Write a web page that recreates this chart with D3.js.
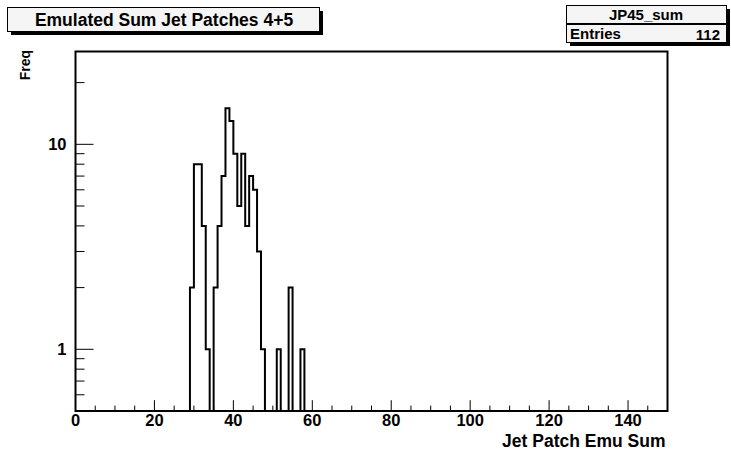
<!DOCTYPE html>
<html><head><meta charset="utf-8">
<script src="https://cdn.jsdelivr.net/npm/d3@7"></script>
<style>body{margin:0;background:#fff}svg{display:block}text{font-family:"Liberation Sans",Arial,sans-serif;font-weight:bold;fill:#000}</style>
</head><body><svg id="c" width="731" height="457"></svg>
<script>
const binLow = [29,30,31,32,33,34,35,36,37,38,39,40,41,42,43,44,45,46,47,51,54,57];
const counts = [2,8,8,4,1,0,2,4,7,15,13,9,5,9,4,7,6,3,1,1,2,1];
const xTicks = [0,20,40,60,80,100,120,140];
const yTickLabels = [1,10];
const title = "Emulated Sum Jet Patches 4+5";
const statsName = "JP45_sum";
const entries = 112;

const svg = d3.select("#c");
const L=75.5,R=667.5,T=51.5,B=411;
const x = d3.scaleLinear([0,150],[L,R]);
const y = d3.scaleLog([0.5,28.37],[B,T]);

// histogram outline
const nb = 150, vals = new Array(nb).fill(0);
binLow.forEach((b,i)=>{vals[b]=counts[i];});
const pts=[];
for(let i=0;i<nb;i++){const v=Math.max(vals[i],0.5);pts.push([i,v]);pts.push([i+1,v]);}
svg.append("path").attr("d",d3.line().x(d=>x(d[0])).y(d=>y(d[1]))(pts))
  .attr("fill","none").attr("stroke","#000").attr("stroke-width",2);

// frame
svg.append("rect").attr("x",L).attr("y",T).attr("width",R-L).attr("height",B-T)
  .attr("fill","none").attr("stroke","#000").attr("stroke-width",2);

// x ticks
const xMinor = d3.range(0,151,5);
svg.append("g").selectAll("line").data(xMinor).join("line")
  .attr("x1",d=>x(d)).attr("x2",d=>x(d)).attr("y1",B).attr("y2",d=>B-(d%20===0?10.8:5.4))
  .attr("stroke","#000").attr("stroke-width",1);
svg.append("g").selectAll("text").data(xTicks).join("text")
  .attr("x",d=>x(d)).attr("y",B+15).attr("text-anchor","middle").attr("font-size",16.5).text(d=>d);

// y ticks
const yMinor=[0.6,0.7,0.8,0.9,2,3,4,5,6,7,8,9,20];
svg.append("g").selectAll("line").data(yMinor).join("line")
  .attr("x1",L).attr("x2",L+9).attr("y1",d=>y(d)).attr("y2",d=>y(d)).attr("stroke","#000").attr("stroke-width",1);
svg.append("g").selectAll("line").data(yTickLabels).join("line")
  .attr("x1",L).attr("x2",L+18).attr("y1",d=>y(d)).attr("y2",d=>y(d)).attr("stroke","#000").attr("stroke-width",1);
svg.append("g").selectAll("text").data(yTickLabels).join("text")
  .attr("x",L-9).attr("y",d=>y(d)+6).attr("text-anchor","end").attr("font-size",16.5).text(d=>d);

// axis titles
svg.append("text").attr("x",R-2).attr("y",447).attr("text-anchor","end").attr("font-size",17.5).text("Jet Patch Emu Sum");
svg.append("text").attr("transform","translate(30,50) rotate(-90)").attr("text-anchor","end").attr("font-size",14).text("Freq");

// title box
svg.append("rect").attr("x",11).attr("y",11).attr("width",312).attr("height",24).attr("fill","#000");
svg.append("rect").attr("x",7.5).attr("y",7.5).attr("width",312).attr("height",24).attr("fill","#f5f5f5").attr("stroke","#000").attr("stroke-width",1);
svg.append("text").attr("x",164).attr("y",26).attr("text-anchor","middle").attr("font-size",17.5).text(title);

// stats box
svg.append("rect").attr("x",570).attr("y",9).attr("width",160).attr("height",37).attr("fill","#000");
svg.append("rect").attr("x",566.5).attr("y",5.5).attr("width",160).attr("height",37).attr("fill","#f5f5f5").attr("stroke","#000").attr("stroke-width",1);
svg.append("line").attr("x1",566.5).attr("x2",726.5).attr("y1",24).attr("y2",24).attr("stroke","#000").attr("stroke-width",2);
svg.append("text").attr("x",646).attr("y",20).attr("text-anchor","middle").attr("font-size",15).text(statsName);
svg.append("text").attr("x",570).attr("y",39).attr("font-size",15).text("Entries");
svg.append("text").attr("x",720).attr("y",40).attr("text-anchor","end").attr("font-size",15).text(entries);
</script></body></html>
